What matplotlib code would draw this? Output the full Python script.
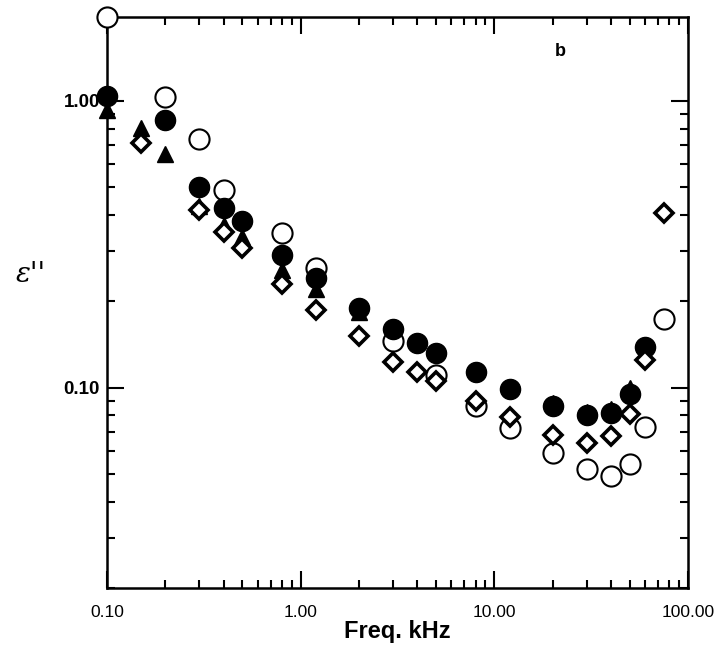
import matplotlib
matplotlib.use("Agg")
import matplotlib.pyplot as plt
from matplotlib.ticker import LogLocator, FixedLocator, NullFormatter

# Data (frequency in kHz, epsilon'')
open_x = [0.1, 0.2, 0.3, 0.4, 0.8, 1.2, 3, 5, 8, 12, 20, 30, 40, 50, 60, 75]
open_y = [1.96, 1.03, 0.737, 0.49, 0.347, 0.262, 0.145, 0.111, 0.0865, 0.072, 0.0589, 0.052, 0.049, 0.054, 0.0726, 0.174]

filled_x = [0.1, 0.2, 0.3, 0.4, 0.5, 0.8, 1.2, 2, 3, 4, 5, 8, 12, 20, 30, 40, 50, 60]
filled_y = [1.04, 0.859, 0.50, 0.424, 0.382, 0.29, 0.242, 0.19, 0.16, 0.143, 0.132, 0.113, 0.099, 0.086, 0.080, 0.0818, 0.0946, 0.139]

tri_x = [0.1, 0.15, 0.2, 0.3, 0.4, 0.5, 0.8, 1.2, 2, 20, 30, 40, 50]
tri_y = [0.93, 0.805, 0.654, 0.43, 0.37, 0.336, 0.258, 0.22, 0.183, 0.0885, 0.0825, 0.0845, 0.10]

dia_x = [0.15, 0.3, 0.4, 0.5, 0.8, 1.2, 2, 3, 4, 5, 8, 12, 20, 30, 40, 50, 60, 75]
dia_y = [0.714, 0.417, 0.35, 0.307, 0.229, 0.187, 0.151, 0.123, 0.113, 0.105, 0.090, 0.079, 0.0686, 0.0643, 0.068, 0.081, 0.125, 0.407]

xticks = [0.1, 1, 10, 100]
xticklabels = ["0.10", "1.00", "10.00", "100.00"]
yticks = [0.1, 1]
yticklabels = ["0.10", "1.00"]

fig = plt.figure(figsize=(7.17, 6.47), dpi=100)
ax = fig.add_axes([107/717, 59/647, (688-107)/717, (588-17)/647])
ax.set_xscale("log")
ax.set_yscale("log")
ax.set_xlim(0.1, 100)
ax.set_ylim(0.02, 1.96)

ax.plot(open_x, open_y, 'o', ms=14.5, mfc='white', mec='black', mew=1.5, zorder=3, clip_on=False)
ax.plot(tri_x, tri_y, '^', ms=12, mfc='black', mec='black', zorder=4, clip_on=False)
ax.plot(filled_x, filled_y, 'o', ms=14.5, mfc='black', mec='black', zorder=5, clip_on=False)
ax.plot(dia_x, dia_y, 'D', ms=9, mfc='white', mec='black', mew=2.6, zorder=6, clip_on=False)

for s in ax.spines.values():
    s.set_linewidth(1.8)

ax.xaxis.set_major_locator(FixedLocator(xticks))
ax.set_xticklabels(xticklabels)
ax.yaxis.set_major_locator(FixedLocator(yticks))
ax.set_yticklabels(yticklabels)
ax.xaxis.set_minor_locator(LogLocator(base=10, subs=range(2, 10)))
ax.yaxis.set_minor_locator(LogLocator(base=10, subs=range(2, 10)))
ax.xaxis.set_minor_formatter(NullFormatter())
ax.yaxis.set_minor_formatter(NullFormatter())
ax.tick_params(which='both', direction='in', top=True, right=True, width=1.5)
ax.tick_params(which='major', length=12)
ax.tick_params(which='minor', length=6)
ax.tick_params(axis='x', which='major', labelsize=12.5, pad=12)
ax.tick_params(axis='y', which='major', labelsize=13.5, pad=5)
for lab in ax.get_xticklabels():
    lab.set_family('Liberation Sans')
for lab in ax.get_yticklabels():
    lab.set_family('Liberation Sans')
    lab.set_fontweight('bold')

ax.set_xlabel("Freq. kHz", fontsize=17, fontweight='bold', family='Liberation Sans', labelpad=0)
fig.text(16/717, 1 - 275/647, "ε''", fontsize=20, style='italic', family='DejaVu Serif', ha='left', va='center')
fig.text(555/717, 1 - 56/647, "b", fontsize=13, fontweight='bold', family='Liberation Sans')

fig.savefig("out.png", dpi=100)
